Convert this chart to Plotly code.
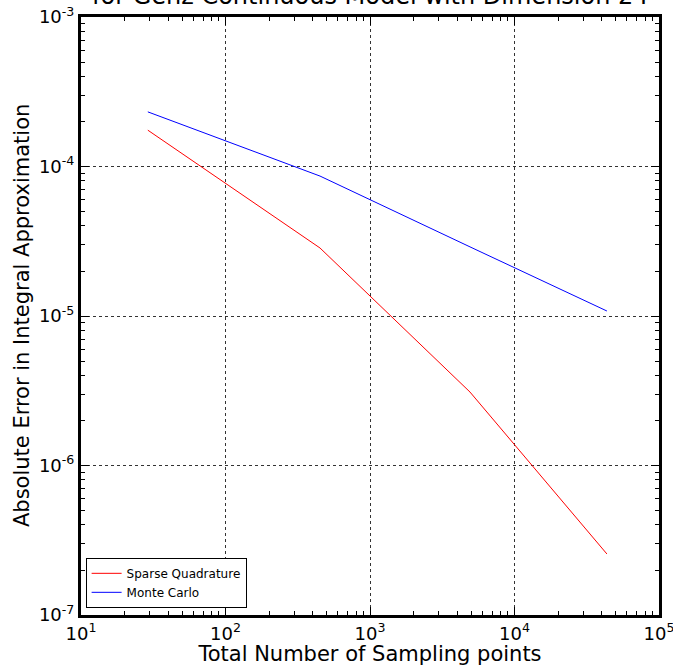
import plotly.graph_objects as go

# Data
sampling_points = [29, 451, 4920, 43600]
sparse_quadrature = [1.75e-4, 2.85e-5, 3.1e-6, 2.56e-7]
monte_carlo = [2.32e-4, 8.63e-5, 2.9e-5, 1.08e-5]

x_tick_vals = [10, 100, 1000, 10000, 100000]
x_tick_text = ["10<sup>1</sup>", "10<sup>2</sup>", "10<sup>3</sup>", "10<sup>4</sup>", "10<sup>5</sup>"]
y_tick_vals = [1e-7, 1e-6, 1e-5, 1e-4, 1e-3]
y_tick_text = ["10<sup>-7</sup>", "10<sup>-6</sup>", "10<sup>-5</sup>", "10<sup>-4</sup>", "10<sup>-3</sup>"]

FONT = "DejaVu Sans"

fig = go.Figure()
fig.add_trace(go.Scatter(x=sampling_points, y=sparse_quadrature, mode="lines",
                         name="Sparse Quadrature", line=dict(color="#ff0000", width=1)))
fig.add_trace(go.Scatter(x=sampling_points, y=monte_carlo, mode="lines",
                         name="Monte Carlo", line=dict(color="#0000ff", width=1)))

axis_common = dict(
    showline=True, linecolor="black", linewidth=3, mirror="allticks",
    ticks="inside", ticklen=8, tickwidth=1, tickcolor="black",
    showgrid=True, gridcolor="#333333", griddash="dot", gridwidth=1,
    zeroline=False, automargin=False, ticklabeloverflow="allow",
    tickfont=dict(family=FONT, size=18, color="black"),
    minor=dict(ticks="inside", ticklen=4, tickcolor="black", tickwidth=1, showgrid=False, dtick="D1"),
)

fig.update_xaxes(type="log", range=[1, 5], tickvals=x_tick_vals, ticktext=x_tick_text,
                 title=dict(text="Total Number of Sampling points", font=dict(family=FONT, size=21, color="black")),
                 **axis_common)
fig.update_yaxes(type="log", range=[-7, -3], tickvals=y_tick_vals, ticktext=y_tick_text,
                 **axis_common)

fig.add_annotation(text="Absolute Error in Integral Approximation", xref="paper", yref="paper",
                   x=-0.102, y=0.5, xanchor="center", yanchor="middle", textangle=-90,
                   showarrow=False, font=dict(family=FONT, size=21, color="black"))

fig.add_annotation(text="for Genz Continuous Model with Dimension 24", xref="paper", yref="paper",
                   x=0.5, y=1.0, yshift=5, yanchor="bottom", showarrow=False,
                   font=dict(family=FONT, size=24, color="black"))

fig.update_layout(
    width=673, height=666,
    margin=dict(l=81, r=14, t=17, b=51, autoexpand=False),
    paper_bgcolor="white", plot_bgcolor="white",
    font=dict(family=FONT, color="black"),
    showlegend=True,
    legend=dict(x=0.008, y=0.012, xanchor="left", yanchor="bottom",
                bgcolor="white", bordercolor="black", borderwidth=1,
                font=dict(family=FONT, size=12, color="black"),
                tracegroupgap=0, itemwidth=30),
)

fig.write_html("out.html")
